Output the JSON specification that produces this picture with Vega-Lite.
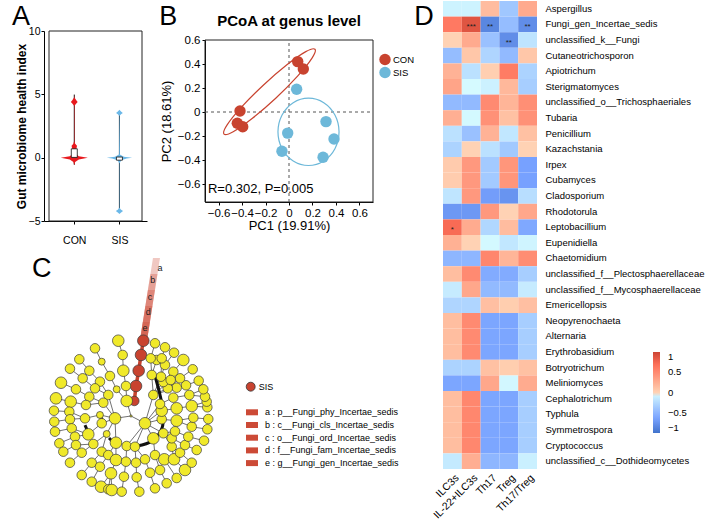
{
  "$schema": "https://vega.github.io/schema/vega-lite/v6.json",
  "width": 708,
  "height": 525,
  "autosize": {"type": "none"},
  "padding": 0,
  "background": "white",
  "config": {
    "font": "Liberation Sans",
    "view": {"stroke": null},
    "axis": {"grid": false, "labelColor": "#000", "titleColor": "#000", "domainColor": "#000", "tickColor": "#000", "labelOverlap": false, "labelFlush": false, "titleFontWeight": "normal"},
    "legend": {"padding": 0, "titlePadding": 0}
  },
  "datasets": {
    "violin": [
      {"grp": "CON", "v": -0.6, "lo": 1, "hi": 1},
      {"grp": "CON", "v": -0.35, "lo": 0.98, "hi": 1.02},
      {"grp": "CON", "v": -0.15, "lo": 0.9, "hi": 1.1},
      {"grp": "CON", "v": 0, "lo": 0.7, "hi": 1.3},
      {"grp": "CON", "v": 0.12, "lo": 0.9, "hi": 1.1},
      {"grp": "CON", "v": 0.3, "lo": 0.97, "hi": 1.03},
      {"grp": "CON", "v": 0.5, "lo": 0.98, "hi": 1.02},
      {"grp": "CON", "v": 0.75, "lo": 0.95, "hi": 1.05},
      {"grp": "CON", "v": 0.95, "lo": 0.94, "hi": 1.06},
      {"grp": "CON", "v": 1.1, "lo": 0.98, "hi": 1.02},
      {"grp": "CON", "v": 1.3, "lo": 0.995, "hi": 1.005},
      {"grp": "CON", "v": 4.1, "lo": 0.995, "hi": 1.005},
      {"grp": "CON", "v": 4.25, "lo": 0.96, "hi": 1.04},
      {"grp": "CON", "v": 4.4, "lo": 0.925, "hi": 1.075},
      {"grp": "CON", "v": 4.55, "lo": 0.96, "hi": 1.04},
      {"grp": "CON", "v": 4.75, "lo": 0.995, "hi": 1.005},
      {"grp": "CON", "v": 4.95, "lo": 1, "hi": 1},
      {"grp": "SIS", "v": -4.45, "lo": 2, "hi": 2},
      {"grp": "SIS", "v": -4.35, "lo": 1.97, "hi": 2.03},
      {"grp": "SIS", "v": -4.22, "lo": 1.92, "hi": 2.08},
      {"grp": "SIS", "v": -4.1, "lo": 1.97, "hi": 2.03},
      {"grp": "SIS", "v": -3.95, "lo": 1.995, "hi": 2.005},
      {"grp": "SIS", "v": -0.45, "lo": 1.995, "hi": 2.005},
      {"grp": "SIS", "v": -0.2, "lo": 1.96, "hi": 2.04},
      {"grp": "SIS", "v": -0.06, "lo": 1.84, "hi": 2.16},
      {"grp": "SIS", "v": 0, "lo": 1.72, "hi": 2.28},
      {"grp": "SIS", "v": 0.07, "lo": 1.9, "hi": 2.1},
      {"grp": "SIS", "v": 0.25, "lo": 1.99, "hi": 2.01},
      {"grp": "SIS", "v": 3.3, "lo": 1.995, "hi": 2.005},
      {"grp": "SIS", "v": 3.42, "lo": 1.965, "hi": 2.035},
      {"grp": "SIS", "v": 3.53, "lo": 1.925, "hi": 2.075},
      {"grp": "SIS", "v": 3.64, "lo": 1.965, "hi": 2.035},
      {"grp": "SIS", "v": 3.78, "lo": 2, "hi": 2}
    ],
    "whisk": [
      {"grp": "CON", "pos": 1, "lo": -0.56, "hi": 4.98},
      {"grp": "SIS", "pos": 2, "lo": -4.26, "hi": 3.52}
    ],
    "box": [
      {"grp": "CON", "pos": 1, "q1": 0.02, "q3": 0.7},
      {"grp": "SIS", "pos": 2, "q1": -0.2, "q3": 0.05}
    ],
    "pcoa": [
      {"grp": "CON", "x": 0.074, "y": 0.42},
      {"grp": "CON", "x": 0.122, "y": 0.358},
      {"grp": "CON", "x": -0.417, "y": 0.008},
      {"grp": "CON", "x": -0.44, "y": -0.094},
      {"grp": "CON", "x": -0.394, "y": -0.123},
      {"grp": "SIS", "x": 0.065, "y": 0.19},
      {"grp": "SIS", "x": 0.315, "y": -0.08},
      {"grp": "SIS", "x": 0.383, "y": -0.225},
      {"grp": "SIS", "x": 0.29, "y": -0.377},
      {"grp": "SIS", "x": -0.011, "y": -0.176},
      {"grp": "SIS", "x": -0.06, "y": -0.327}
    ],
    "ellipse": [
      {"grp": "CON", "i": 0, "x": 0.221, "y": 0.523},
      {"grp": "CON", "i": 1, "x": 0.196, "y": 0.449},
      {"grp": "CON", "i": 2, "x": 0.073, "y": 0.299},
      {"grp": "CON", "i": 3, "x": -0.113, "y": 0.115},
      {"grp": "CON", "i": 4, "x": -0.314, "y": -0.054},
      {"grp": "CON", "i": 5, "x": -0.475, "y": -0.164},
      {"grp": "CON", "i": 6, "x": -0.553, "y": -0.184},
      {"grp": "CON", "i": 7, "x": -0.528, "y": -0.11},
      {"grp": "CON", "i": 8, "x": -0.405, "y": 0.04},
      {"grp": "CON", "i": 9, "x": -0.219, "y": 0.223},
      {"grp": "CON", "i": 10, "x": -0.018, "y": 0.393},
      {"grp": "CON", "i": 11, "x": 0.143, "y": 0.503},
      {"grp": "SIS", "i": 0, "x": 0.426, "y": -0.165},
      {"grp": "SIS", "i": 1, "x": 0.391, "y": -0.025},
      {"grp": "SIS", "i": 2, "x": 0.296, "y": 0.078},
      {"grp": "SIS", "i": 3, "x": 0.166, "y": 0.116},
      {"grp": "SIS", "i": 4, "x": 0.036, "y": 0.078},
      {"grp": "SIS", "i": 5, "x": -0.059, "y": -0.025},
      {"grp": "SIS", "i": 6, "x": -0.094, "y": -0.165},
      {"grp": "SIS", "i": 7, "x": -0.059, "y": -0.306},
      {"grp": "SIS", "i": 8, "x": 0.036, "y": -0.408},
      {"grp": "SIS", "i": 9, "x": 0.166, "y": -0.446},
      {"grp": "SIS", "i": 10, "x": 0.296, "y": -0.408},
      {"grp": "SIS", "i": 11, "x": 0.391, "y": -0.306}
    ],
    "nodes": [
      {"id": 0, "x": 0, "y": 0, "s": 0, "g": "no"},
      {"id": 201, "x": 0.041, "y": 0.188, "s": 2, "g": "SIS"},
      {"id": 202, "x": 0.063, "y": 0.375, "s": 3, "g": "SIS"},
      {"id": 203, "x": 0.096, "y": 0.566, "s": 3, "g": "SIS"},
      {"id": 204, "x": 0.125, "y": 0.763, "s": 3, "g": "SIS"},
      {"id": 205, "x": 0.154, "y": 0.941, "s": 3, "g": "SIS"},
      {"id": 1, "x": -0.159, "y": 0.941, "s": 3, "g": "no"},
      {"id": 2, "x": -0.45, "y": 0.846, "s": 2, "g": "no"},
      {"id": 3, "x": -0.104, "y": 0.763, "s": 2, "g": "no"},
      {"id": 4, "x": -0.646, "y": 0.709, "s": 2, "g": "no"},
      {"id": 5, "x": -0.366, "y": 0.679, "s": 1, "g": "no"},
      {"id": 6, "x": -0.763, "y": 0.591, "s": 2, "g": "no"},
      {"id": 7, "x": -0.521, "y": 0.566, "s": 2, "g": "no"},
      {"id": 8, "x": -0.096, "y": 0.566, "s": 3, "g": "no"},
      {"id": 9, "x": -0.604, "y": 0.471, "s": 2, "g": "no"},
      {"id": 10, "x": -0.263, "y": 0.5, "s": 2, "g": "no"},
      {"id": 11, "x": -0.875, "y": 0.416, "s": 3, "g": "no"},
      {"id": 12, "x": -0.688, "y": 0.334, "s": 2, "g": "no"},
      {"id": 13, "x": -0.388, "y": 0.429, "s": 2, "g": "no"},
      {"id": 14, "x": -0.45, "y": 0.346, "s": 2, "g": "no"},
      {"id": 15, "x": -0.179, "y": 0.334, "s": 1, "g": "no"},
      {"id": 16, "x": -0.063, "y": 0.375, "s": 2, "g": "no"},
      {"id": 17, "x": -0.521, "y": 0.241, "s": 2, "g": "no"},
      {"id": 18, "x": -0.284, "y": 0.263, "s": 2, "g": "no"},
      {"id": 19, "x": -0.938, "y": 0.221, "s": 3, "g": "no"},
      {"id": 20, "x": -0.754, "y": 0.179, "s": 3, "g": "no"},
      {"id": 21, "x": -0.563, "y": 0.138, "s": 2, "g": "no"},
      {"id": 22, "x": -0.346, "y": 0.166, "s": 2, "g": "no"},
      {"id": 23, "x": -0.054, "y": 0.188, "s": 3, "g": "no"},
      {"id": 24, "x": -0.963, "y": 0.066, "s": 2, "g": "no"},
      {"id": 25, "x": -0.771, "y": 0.054, "s": 2, "g": "no"},
      {"id": 26, "x": -0.575, "y": -0.029, "s": 2, "g": "no"},
      {"id": 27, "x": -0.388, "y": 0.013, "s": 1, "g": "no"},
      {"id": 28, "x": -0.2, "y": -0.029, "s": 3, "g": "no"},
      {"id": 29, "x": -0.959, "y": -0.071, "s": 2, "g": "no"},
      {"id": 30, "x": -0.763, "y": -0.041, "s": 2, "g": "no"},
      {"id": 31, "x": -0.95, "y": -0.196, "s": 2, "g": "no"},
      {"id": 32, "x": -0.741, "y": -0.154, "s": 2, "g": "no"},
      {"id": 33, "x": -0.534, "y": -0.229, "s": 3, "g": "no"},
      {"id": 34, "x": -0.366, "y": -0.091, "s": 2, "g": "no"},
      {"id": 35, "x": -0.304, "y": -0.225, "s": 1, "g": "no"},
      {"id": 36, "x": -0.896, "y": -0.341, "s": 2, "g": "no"},
      {"id": 37, "x": -0.7, "y": -0.259, "s": 2, "g": "no"},
      {"id": 38, "x": -0.688, "y": -0.363, "s": 2, "g": "no"},
      {"id": 39, "x": -0.846, "y": -0.446, "s": 2, "g": "no"},
      {"id": 40, "x": -0.616, "y": -0.459, "s": 2, "g": "no"},
      {"id": 41, "x": -0.471, "y": -0.35, "s": 2, "g": "no"},
      {"id": 42, "x": -0.188, "y": -0.334, "s": 3, "g": "no"},
      {"id": 43, "x": -0.366, "y": -0.446, "s": 2, "g": "no"},
      {"id": 44, "x": -0.763, "y": -0.584, "s": 2, "g": "no"},
      {"id": 45, "x": -0.491, "y": -0.584, "s": 2, "g": "no"},
      {"id": 46, "x": -0.284, "y": -0.488, "s": 2, "g": "no"},
      {"id": 47, "x": -0.188, "y": -0.55, "s": 3, "g": "no"},
      {"id": 48, "x": -0.054, "y": -0.375, "s": 2, "g": "no"},
      {"id": 49, "x": 0.05, "y": -0.384, "s": 2, "g": "no"},
      {"id": 50, "x": -0.063, "y": -0.571, "s": 2, "g": "no"},
      {"id": 51, "x": -0.616, "y": -0.738, "s": 2, "g": "no"},
      {"id": 52, "x": -0.388, "y": -0.634, "s": 2, "g": "no"},
      {"id": 53, "x": -0.25, "y": -0.716, "s": 3, "g": "no"},
      {"id": 54, "x": -0.088, "y": -0.759, "s": 2, "g": "no"},
      {"id": 55, "x": -0.491, "y": -0.821, "s": 2, "g": "no"},
      {"id": 56, "x": -0.375, "y": -0.884, "s": 3, "g": "no"},
      {"id": 57, "x": -0.284, "y": -0.916, "s": 2, "g": "no"},
      {"id": 58, "x": -0.241, "y": -0.925, "s": 3, "g": "no"},
      {"id": 59, "x": -0.116, "y": -0.946, "s": 2, "g": "no"},
      {"id": 60, "x": 0.104, "y": -0.946, "s": 2, "g": "no"},
      {"id": 61, "x": 0.071, "y": -0.766, "s": 2, "g": "no"},
      {"id": 62, "x": 0.063, "y": -0.584, "s": 2, "g": "no"},
      {"id": 63, "x": 0.175, "y": -0.541, "s": 2, "g": "no"},
      {"id": 64, "x": 0.238, "y": -0.709, "s": 2, "g": "no"},
      {"id": 65, "x": 0.3, "y": -0.904, "s": 2, "g": "no"},
      {"id": 66, "x": 0.363, "y": -0.675, "s": 2, "g": "no"},
      {"id": 67, "x": 0.446, "y": -0.841, "s": 2, "g": "no"},
      {"id": 68, "x": 0.3, "y": -0.488, "s": 2, "g": "no"},
      {"id": 69, "x": 0.416, "y": -0.541, "s": 3, "g": "no"},
      {"id": 70, "x": 0.538, "y": -0.541, "s": 3, "g": "no"},
      {"id": 71, "x": 0.675, "y": -0.675, "s": 3, "g": "no"},
      {"id": 72, "x": 0.759, "y": -0.584, "s": 2, "g": "no"},
      {"id": 73, "x": 0.613, "y": -0.459, "s": 2, "g": "no"},
      {"id": 74, "x": 0.509, "y": -0.384, "s": 2, "g": "no"},
      {"id": 75, "x": 0.279, "y": -0.279, "s": 3, "g": "no"},
      {"id": 76, "x": 0.404, "y": -0.216, "s": 2, "g": "no"},
      {"id": 77, "x": 0.675, "y": -0.363, "s": 2, "g": "no"},
      {"id": 78, "x": 0.821, "y": -0.425, "s": 2, "g": "no"},
      {"id": 79, "x": 0.913, "y": -0.309, "s": 2, "g": "no"},
      {"id": 80, "x": 0.716, "y": -0.259, "s": 2, "g": "no"},
      {"id": 81, "x": 0.571, "y": -0.059, "s": 3, "g": "no"},
      {"id": 82, "x": 0.384, "y": -0.041, "s": 2, "g": "no"},
      {"id": 83, "x": 0.175, "y": -0.091, "s": 3, "g": "no"},
      {"id": 84, "x": 0.509, "y": -0.279, "s": 2, "g": "no"},
      {"id": 85, "x": 0.759, "y": -0.134, "s": 2, "g": "no"},
      {"id": 86, "x": 0.954, "y": -0.166, "s": 2, "g": "no"},
      {"id": 87, "x": 0.779, "y": -0.021, "s": 2, "g": "no"},
      {"id": 88, "x": 0.966, "y": -0.038, "s": 2, "g": "no"},
      {"id": 89, "x": 0.384, "y": 0.066, "s": 3, "g": "no"},
      {"id": 90, "x": 0.571, "y": 0.096, "s": 3, "g": "no"},
      {"id": 91, "x": 0.759, "y": 0.125, "s": 3, "g": "no"},
      {"id": 92, "x": 0.954, "y": 0.109, "s": 2, "g": "no"},
      {"id": 93, "x": 0.946, "y": 0.179, "s": 2, "g": "no"},
      {"id": 94, "x": 0.925, "y": 0.241, "s": 2, "g": "no"},
      {"id": 95, "x": 0.904, "y": 0.334, "s": 2, "g": "no"},
      {"id": 96, "x": 0.729, "y": 0.263, "s": 2, "g": "no"},
      {"id": 97, "x": 0.529, "y": 0.229, "s": 2, "g": "no"},
      {"id": 98, "x": 0.279, "y": 0.263, "s": 2, "g": "no"},
      {"id": 99, "x": 0.363, "y": 0.15, "s": 2, "g": "no"},
      {"id": 100, "x": 0.846, "y": 0.441, "s": 2, "g": "no"},
      {"id": 101, "x": 0.688, "y": 0.384, "s": 2, "g": "no"},
      {"id": 102, "x": 0.571, "y": 0.354, "s": 2, "g": "no"},
      {"id": 103, "x": 0.459, "y": 0.346, "s": 2, "g": "no"},
      {"id": 104, "x": 0.404, "y": 0.425, "s": 2, "g": "no"},
      {"id": 105, "x": 0.613, "y": 0.471, "s": 2, "g": "no"},
      {"id": 106, "x": 0.771, "y": 0.584, "s": 2, "g": "no"},
      {"id": 107, "x": 0.654, "y": 0.7, "s": 3, "g": "no"},
      {"id": 108, "x": 0.529, "y": 0.554, "s": 2, "g": "no"},
      {"id": 109, "x": 0.375, "y": 0.491, "s": 2, "g": "no"},
      {"id": 110, "x": 0.259, "y": 0.513, "s": 2, "g": "no"},
      {"id": 111, "x": 0.425, "y": 0.638, "s": 2, "g": "no"},
      {"id": 112, "x": 0.321, "y": 0.7, "s": 2, "g": "no"},
      {"id": 113, "x": 0.246, "y": 0.721, "s": 2, "g": "no"},
      {"id": 114, "x": 0.538, "y": 0.791, "s": 2, "g": "no"},
      {"id": 115, "x": 0.425, "y": 0.859, "s": 2, "g": "no"},
      {"id": 116, "x": 0.3, "y": 0.909, "s": 2, "g": "no"},
      {"id": 117, "x": 0.384, "y": 0.721, "s": 2, "g": "no"},
      {"id": 118, "x": 0.496, "y": 0.45, "s": 2, "g": "no"},
      {"id": 119, "x": 0.55, "y": -0.191, "s": 2, "g": "no"},
      {"id": 120, "x": 0.571, "y": -0.775, "s": 2, "g": "no"}
    ],
    "edges": [
      {"c": 1, "p": 3}, {"c": 2, "p": 5}, {"c": 4, "p": 7}, {"c": 6, "p": 9}, {"c": 11, "p": 12}, {"c": 19, "p": 20}, {"c": 24, "p": 25}, {"c": 29, "p": 30}, {"c": 31, "p": 32}, {"c": 36, "p": 37}, {"c": 39, "p": 38}, {"c": 44, "p": 40}, {"c": 51, "p": 45}, {"c": 55, "p": 52}, {"c": 56, "p": 53}, {"c": 57, "p": 53}, {"c": 58, "p": 53}, {"c": 59, "p": 54}, {"c": 60, "p": 61}, {"c": 65, "p": 64}, {"c": 67, "p": 66}, {"c": 120, "p": 69}, {"c": 71, "p": 70}, {"c": 72, "p": 73}, {"c": 78, "p": 77}, {"c": 79, "p": 80}, {"c": 86, "p": 85}, {"c": 88, "p": 87}, {"c": 92, "p": 91}, {"c": 93, "p": 91}, {"c": 94, "p": 96}, {"c": 95, "p": 96}, {"c": 100, "p": 101}, {"c": 106, "p": 105}, {"c": 107, "p": 108}, {"c": 114, "p": 111}, {"c": 115, "p": 117}, {"c": 116, "p": 113},
      {"c": 3, "p": 8}, {"c": 5, "p": 10}, {"c": 7, "p": 13}, {"c": 9, "p": 14}, {"c": 12, "p": 17}, {"c": 20, "p": 21}, {"c": 25, "p": 26}, {"c": 30, "p": 26}, {"c": 32, "p": 33}, {"c": 37, "p": 33}, {"c": 38, "p": 41}, {"c": 40, "p": 41}, {"c": 45, "p": 43}, {"c": 52, "p": 46}, {"c": 53, "p": 47}, {"c": 54, "p": 50}, {"c": 61, "p": 62}, {"c": 64, "p": 63}, {"c": 66, "p": 68}, {"c": 69, "p": 68}, {"c": 70, "p": 74}, {"c": 73, "p": 74}, {"c": 77, "p": 84}, {"c": 80, "p": 119}, {"c": 85, "p": 81}, {"c": 87, "p": 81}, {"c": 91, "p": 90}, {"c": 96, "p": 97}, {"c": 101, "p": 102}, {"c": 105, "p": 103}, {"c": 108, "p": 104}, {"c": 111, "p": 109}, {"c": 117, "p": 109}, {"c": 112, "p": 110}, {"c": 113, "p": 110},
      {"c": 8, "p": 16}, {"c": 10, "p": 15}, {"c": 13, "p": 18}, {"c": 14, "p": 18}, {"c": 17, "p": 22}, {"c": 21, "p": 22}, {"c": 26, "p": 27}, {"c": 33, "p": 34}, {"c": 41, "p": 35}, {"c": 43, "p": 35}, {"c": 46, "p": 42}, {"c": 47, "p": 42}, {"c": 50, "p": 48}, {"c": 62, "p": 49}, {"c": 63, "p": 49}, {"c": 68, "p": 75}, {"c": 74, "p": 76}, {"c": 84, "p": 76}, {"c": 119, "p": 76}, {"c": 81, "p": 82}, {"c": 90, "p": 89}, {"c": 97, "p": 99}, {"c": 102, "p": 98}, {"c": 103, "p": 98}, {"c": 104, "p": 98}, {"c": 118, "p": 98}, {"c": 109, "p": 98}, {"c": 110, "p": 98},
      {"c": 15, "p": 23}, {"c": 16, "p": 23}, {"c": 18, "p": 28}, {"c": 22, "p": 28}, {"c": 27, "p": 28}, {"c": 34, "p": 28}, {"c": 35, "p": 28}, {"c": 42, "p": 28}, {"c": 48, "p": 83}, {"c": 49, "p": 83}, {"c": 75, "p": 83}, {"c": 76, "p": 83}, {"c": 82, "p": 83}, {"c": 89, "p": 83}, {"c": 99, "p": 83}, {"c": 98, "p": 83},
      {"c": 23, "p": 0}, {"c": 28, "p": 0}, {"c": 83, "p": 0}
    ],
    "chain": [
      {"i": 1, "x": 0.041, "y": 0.188},
      {"i": 2, "x": 0.063, "y": 0.375},
      {"i": 3, "x": 0.096, "y": 0.566},
      {"i": 4, "x": 0.125, "y": 0.763},
      {"i": 5, "x": 0.154, "y": 0.941}
    ],
    "thick": [
      {"seg": 1, "i": 0, "x": 0.3, "y": 0.5},
      {"seg": 1, "i": 1, "x": 0.363, "y": 0.263},
      {"seg": 1, "i": 2, "x": 0.4, "y": 0.05},
      {"seg": 1, "i": 3, "x": 0.388, "y": -0.15},
      {"seg": 1, "i": 4, "x": 0.263, "y": -0.313},
      {"seg": 1, "i": 5, "x": 0.075, "y": -0.375},
      {"seg": 2, "i": 0, "x": -0.388, "y": 0.013},
      {"seg": 2, "i": 1, "x": -0.338, "y": -0.1},
      {"seg": 3, "i": 0, "x": -0.575, "y": -0.113},
      {"seg": 3, "i": 1, "x": -0.538, "y": -0.2},
      {"seg": 4, "i": 0, "x": -0.275, "y": -0.275},
      {"seg": 4, "i": 1, "x": -0.225, "y": -0.325}
    ],
    "wedge": [
      {"lab": "a : p__Fungi_phy_Incertae_sedis", "y": 0.9875, "lo": 0.1185, "hi": 0.2065},
      {"lab": "a : p__Fungi_phy_Incertae_sedis", "y": 1.975, "lo": 0.2745, "hi": 0.3625},
      {"lab": "b : c__Fungi_cls_Incertae_sedis", "y": 0.9875, "lo": 0.1185, "hi": 0.2065},
      {"lab": "b : c__Fungi_cls_Incertae_sedis", "y": 1.775, "lo": 0.243, "hi": 0.331},
      {"lab": "c : o__Fungi_ord_Incertae_sedis", "y": 0.9875, "lo": 0.1185, "hi": 0.2065},
      {"lab": "c : o__Fungi_ord_Incertae_sedis", "y": 1.575, "lo": 0.211, "hi": 0.299},
      {"lab": "d : f__Fungi_fam_Incertae_sedis", "y": 0.9875, "lo": 0.1185, "hi": 0.2065},
      {"lab": "d : f__Fungi_fam_Incertae_sedis", "y": 1.375, "lo": 0.18, "hi": 0.268},
      {"lab": "e : g__Fungi_gen_Incertae_sedis", "y": 0.9875, "lo": 0.1185, "hi": 0.2065},
      {"lab": "e : g__Fungi_gen_Incertae_sedis", "y": 1.175, "lo": 0.148, "hi": 0.236}
    ],
    "wlab": [
      {"k": "a", "x": 0.3625, "y": 1.854},
      {"k": "b", "x": 0.271, "y": 1.7},
      {"k": "c", "x": 0.2375, "y": 1.491},
      {"k": "d", "x": 0.216, "y": 1.304},
      {"k": "e", "x": 0.175, "y": 1.096}
    ],
    "heat": [
      {"g": "Aspergillus", "c": "ILC3s", "v": -0.08}, {"g": "Aspergillus", "c": "IL-22+ILC3s", "v": -0.08}, {"g": "Aspergillus", "c": "Th17", "v": 0.15}, {"g": "Aspergillus", "c": "Treg", "v": -0.38}, {"g": "Aspergillus", "c": "Th17/Treg", "v": 0.28},
      {"g": "Fungi_gen_Incertae_sedis", "c": "ILC3s", "v": 0.62}, {"g": "Fungi_gen_Incertae_sedis", "c": "IL-22+ILC3s", "v": 0.88, "s": "***"}, {"g": "Fungi_gen_Incertae_sedis", "c": "Th17", "v": -0.85, "s": "**"}, {"g": "Fungi_gen_Incertae_sedis", "c": "Treg", "v": -0.45}, {"g": "Fungi_gen_Incertae_sedis", "c": "Th17/Treg", "v": -0.8, "s": "**"},
      {"g": "unclassified_k__Fungi", "c": "ILC3s", "v": 0.0}, {"g": "unclassified_k__Fungi", "c": "IL-22+ILC3s", "v": 0.28}, {"g": "unclassified_k__Fungi", "c": "Th17", "v": -0.42}, {"g": "unclassified_k__Fungi", "c": "Treg", "v": -0.8, "s": "**"}, {"g": "unclassified_k__Fungi", "c": "Th17/Treg", "v": -0.18},
      {"g": "Cutaneotrichosporon", "c": "ILC3s", "v": -0.45}, {"g": "Cutaneotrichosporon", "c": "IL-22+ILC3s", "v": 0.08}, {"g": "Cutaneotrichosporon", "c": "Th17", "v": -0.28}, {"g": "Cutaneotrichosporon", "c": "Treg", "v": -0.47}, {"g": "Cutaneotrichosporon", "c": "Th17/Treg", "v": 0.08},
      {"g": "Apiotrichum", "c": "ILC3s", "v": 0.22}, {"g": "Apiotrichum", "c": "IL-22+ILC3s", "v": -0.2}, {"g": "Apiotrichum", "c": "Th17", "v": 0.02}, {"g": "Apiotrichum", "c": "Treg", "v": 0.6}, {"g": "Apiotrichum", "c": "Th17/Treg", "v": -0.3},
      {"g": "Sterigmatomyces", "c": "ILC3s", "v": 0.32}, {"g": "Sterigmatomyces", "c": "IL-22+ILC3s", "v": -0.03}, {"g": "Sterigmatomyces", "c": "Th17", "v": -0.09}, {"g": "Sterigmatomyces", "c": "Treg", "v": 0.18}, {"g": "Sterigmatomyces", "c": "Th17/Treg", "v": -0.33},
      {"g": "unclassified_o__Trichosphaeriales", "c": "ILC3s", "v": -0.47}, {"g": "unclassified_o__Trichosphaeriales", "c": "IL-22+ILC3s", "v": -0.47}, {"g": "unclassified_o__Trichosphaeriales", "c": "Th17", "v": 0.5}, {"g": "unclassified_o__Trichosphaeriales", "c": "Treg", "v": 0.2}, {"g": "unclassified_o__Trichosphaeriales", "c": "Th17/Treg", "v": 0.47},
      {"g": "Tubaria", "c": "ILC3s", "v": 0.24}, {"g": "Tubaria", "c": "IL-22+ILC3s", "v": -0.04}, {"g": "Tubaria", "c": "Th17", "v": 0.45}, {"g": "Tubaria", "c": "Treg", "v": 0.12}, {"g": "Tubaria", "c": "Th17/Treg", "v": 0.45},
      {"g": "Penicillium", "c": "ILC3s", "v": -0.2}, {"g": "Penicillium", "c": "IL-22+ILC3s", "v": -0.42}, {"g": "Penicillium", "c": "Th17", "v": 0.22}, {"g": "Penicillium", "c": "Treg", "v": -0.16}, {"g": "Penicillium", "c": "Th17/Treg", "v": 0.12},
      {"g": "Kazachstania", "c": "ILC3s", "v": -0.3}, {"g": "Kazachstania", "c": "IL-22+ILC3s", "v": 0.0}, {"g": "Kazachstania", "c": "Th17", "v": -0.2}, {"g": "Kazachstania", "c": "Treg", "v": -0.37}, {"g": "Kazachstania", "c": "Th17/Treg", "v": 0.0},
      {"g": "Irpex", "c": "ILC3s", "v": 0.05}, {"g": "Irpex", "c": "IL-22+ILC3s", "v": 0.4}, {"g": "Irpex", "c": "Th17", "v": -0.36}, {"g": "Irpex", "c": "Treg", "v": 0.42}, {"g": "Irpex", "c": "Th17/Treg", "v": -0.65},
      {"g": "Cubamyces", "c": "ILC3s", "v": 0.04}, {"g": "Cubamyces", "c": "IL-22+ILC3s", "v": 0.4}, {"g": "Cubamyces", "c": "Th17", "v": -0.36}, {"g": "Cubamyces", "c": "Treg", "v": 0.42}, {"g": "Cubamyces", "c": "Th17/Treg", "v": -0.65},
      {"g": "Cladosporium", "c": "ILC3s", "v": -0.17}, {"g": "Cladosporium", "c": "IL-22+ILC3s", "v": 0.4}, {"g": "Cladosporium", "c": "Th17", "v": -0.68}, {"g": "Cladosporium", "c": "Treg", "v": -0.75}, {"g": "Cladosporium", "c": "Th17/Treg", "v": -0.22},
      {"g": "Rhodotorula", "c": "ILC3s", "v": -0.72}, {"g": "Rhodotorula", "c": "IL-22+ILC3s", "v": -0.72}, {"g": "Rhodotorula", "c": "Th17", "v": 0.4}, {"g": "Rhodotorula", "c": "Treg", "v": 0.0}, {"g": "Rhodotorula", "c": "Th17/Treg", "v": 0.3},
      {"g": "Leptobacillium", "c": "ILC3s", "v": 0.72, "s": "*"}, {"g": "Leptobacillium", "c": "IL-22+ILC3s", "v": 0.27}, {"g": "Leptobacillium", "c": "Th17", "v": -0.27}, {"g": "Leptobacillium", "c": "Treg", "v": 0.15}, {"g": "Leptobacillium", "c": "Th17/Treg", "v": -0.6},
      {"g": "Eupenidiella", "c": "ILC3s", "v": 0.23}, {"g": "Eupenidiella", "c": "IL-22+ILC3s", "v": 0.0}, {"g": "Eupenidiella", "c": "Th17", "v": -0.04}, {"g": "Eupenidiella", "c": "Treg", "v": -0.16}, {"g": "Eupenidiella", "c": "Th17/Treg", "v": -0.07},
      {"g": "Chaetomidium", "c": "ILC3s", "v": -0.5}, {"g": "Chaetomidium", "c": "IL-22+ILC3s", "v": -0.5}, {"g": "Chaetomidium", "c": "Th17", "v": 0.53}, {"g": "Chaetomidium", "c": "Treg", "v": 0.2}, {"g": "Chaetomidium", "c": "Th17/Treg", "v": 0.48},
      {"g": "unclassified_f__Plectosphaerellaceae", "c": "ILC3s", "v": 0.14}, {"g": "unclassified_f__Plectosphaerellaceae", "c": "IL-22+ILC3s", "v": 0.5}, {"g": "unclassified_f__Plectosphaerellaceae", "c": "Th17", "v": -0.58}, {"g": "unclassified_f__Plectosphaerellaceae", "c": "Treg", "v": -0.58}, {"g": "unclassified_f__Plectosphaerellaceae", "c": "Th17/Treg", "v": -0.33},
      {"g": "unclassified_f__Mycosphaerellaceae", "c": "ILC3s", "v": -0.13}, {"g": "unclassified_f__Mycosphaerellaceae", "c": "IL-22+ILC3s", "v": 0.3}, {"g": "unclassified_f__Mycosphaerellaceae", "c": "Th17", "v": -0.47}, {"g": "unclassified_f__Mycosphaerellaceae", "c": "Treg", "v": -0.47}, {"g": "unclassified_f__Mycosphaerellaceae", "c": "Th17/Treg", "v": -0.13},
      {"g": "Emericellopsis", "c": "ILC3s", "v": -0.28}, {"g": "Emericellopsis", "c": "IL-22+ILC3s", "v": -0.28}, {"g": "Emericellopsis", "c": "Th17", "v": 0.13}, {"g": "Emericellopsis", "c": "Treg", "v": 0.03}, {"g": "Emericellopsis", "c": "Th17/Treg", "v": 0.13},
      {"g": "Neopyrenochaeta", "c": "ILC3s", "v": 0.14}, {"g": "Neopyrenochaeta", "c": "IL-22+ILC3s", "v": 0.5}, {"g": "Neopyrenochaeta", "c": "Th17", "v": -0.62}, {"g": "Neopyrenochaeta", "c": "Treg", "v": -0.62}, {"g": "Neopyrenochaeta", "c": "Th17/Treg", "v": -0.33},
      {"g": "Alternaria", "c": "ILC3s", "v": 0.14}, {"g": "Alternaria", "c": "IL-22+ILC3s", "v": 0.5}, {"g": "Alternaria", "c": "Th17", "v": -0.62}, {"g": "Alternaria", "c": "Treg", "v": -0.62}, {"g": "Alternaria", "c": "Th17/Treg", "v": -0.33},
      {"g": "Erythrobasidium", "c": "ILC3s", "v": 0.14}, {"g": "Erythrobasidium", "c": "IL-22+ILC3s", "v": 0.5}, {"g": "Erythrobasidium", "c": "Th17", "v": -0.62}, {"g": "Erythrobasidium", "c": "Treg", "v": -0.62}, {"g": "Erythrobasidium", "c": "Th17/Treg", "v": -0.33},
      {"g": "Botryotrichum", "c": "ILC3s", "v": -0.3}, {"g": "Botryotrichum", "c": "IL-22+ILC3s", "v": -0.3}, {"g": "Botryotrichum", "c": "Th17", "v": 0.12}, {"g": "Botryotrichum", "c": "Treg", "v": 0.03}, {"g": "Botryotrichum", "c": "Th17/Treg", "v": 0.12},
      {"g": "Meliniomyces", "c": "ILC3s", "v": -0.62}, {"g": "Meliniomyces", "c": "IL-22+ILC3s", "v": -0.62}, {"g": "Meliniomyces", "c": "Th17", "v": 0.3}, {"g": "Meliniomyces", "c": "Treg", "v": -0.05}, {"g": "Meliniomyces", "c": "Th17/Treg", "v": 0.27},
      {"g": "Cephalotrichum", "c": "ILC3s", "v": 0.14}, {"g": "Cephalotrichum", "c": "IL-22+ILC3s", "v": 0.52}, {"g": "Cephalotrichum", "c": "Th17", "v": -0.62}, {"g": "Cephalotrichum", "c": "Treg", "v": -0.62}, {"g": "Cephalotrichum", "c": "Th17/Treg", "v": -0.33},
      {"g": "Typhula", "c": "ILC3s", "v": 0.14}, {"g": "Typhula", "c": "IL-22+ILC3s", "v": 0.52}, {"g": "Typhula", "c": "Th17", "v": -0.62}, {"g": "Typhula", "c": "Treg", "v": -0.62}, {"g": "Typhula", "c": "Th17/Treg", "v": -0.33},
      {"g": "Symmetrospora", "c": "ILC3s", "v": 0.14}, {"g": "Symmetrospora", "c": "IL-22+ILC3s", "v": 0.52}, {"g": "Symmetrospora", "c": "Th17", "v": -0.62}, {"g": "Symmetrospora", "c": "Treg", "v": -0.62}, {"g": "Symmetrospora", "c": "Th17/Treg", "v": -0.33},
      {"g": "Cryptococcus", "c": "ILC3s", "v": 0.14}, {"g": "Cryptococcus", "c": "IL-22+ILC3s", "v": 0.52}, {"g": "Cryptococcus", "c": "Th17", "v": -0.62}, {"g": "Cryptococcus", "c": "Treg", "v": -0.62}, {"g": "Cryptococcus", "c": "Th17/Treg", "v": -0.33},
      {"g": "unclassified_c__Dothideomycetes", "c": "ILC3s", "v": -0.14}, {"g": "unclassified_c__Dothideomycetes", "c": "IL-22+ILC3s", "v": 0.25}, {"g": "unclassified_c__Dothideomycetes", "c": "Th17", "v": -0.5}, {"g": "unclassified_c__Dothideomycetes", "c": "Treg", "v": -0.5}, {"g": "unclassified_c__Dothideomycetes", "c": "Th17/Treg", "v": -0.1}
    ]
  },
  "resolve": {
    "scale": {"x": "independent", "y": "independent", "color": "independent", "fill": "independent", "stroke": "independent", "size": "independent"},
    "axis": {"x": "independent", "y": "independent"}
  },
  "layer": [
    {
      "layer": [
        {
          "data": {"name": "whisk"},
          "mark": {"type": "rule", "color": "#111", "strokeWidth": 1},
          "encoding": {
            "x": {"field": "pos", "type": "quantitative"},
            "y": {"field": "lo", "type": "quantitative"},
            "y2": {"field": "hi"}
          }
        },
        {
          "data": {"name": "violin"},
          "mark": {"type": "area", "orient": "horizontal"},
          "encoding": {
            "y": {"field": "v", "type": "quantitative",
              "scale": {"domain": [-5, 10], "range": [221, 31], "nice": false, "zero": false},
              "axis": {"orient": "left", "offset": -44, "values": [-5, 0, 5, 10], "tickSize": 3, "labelPadding": 1, "labelFontSize": 10.5, "title": "Gut microbiome health index", "titleFontSize": 12, "titleFontWeight": "bold", "titlePadding": 0}},
            "x": {"field": "lo", "type": "quantitative",
              "scale": {"domain": [0.44, 2.5], "range": [44, 147], "nice": false, "zero": false},
              "axis": {"orient": "bottom", "offset": -304, "values": [1, 2], "labelExpr": "datum.value == 1 ? 'CON' : 'SIS'", "tickSize": 3, "labelPadding": 11, "labelFontSize": 10.5, "title": null}},
            "x2": {"field": "hi"},
            "color": {"field": "grp", "type": "nominal", "scale": {"domain": ["CON", "SIS"], "range": ["#E8191E", "#6BB8E8"]}, "legend": null}
          }
        },
        {
          "data": {"name": "box"},
          "mark": {"type": "bar", "size": 6, "fill": "white", "stroke": "#111", "strokeWidth": 0.8},
          "encoding": {
            "x": {"field": "pos", "type": "quantitative"},
            "y": {"field": "q1", "type": "quantitative"},
            "y2": {"field": "q3"}
          }
        },
        {
          "data": {"values": [{}]},
          "mark": {"type": "rect", "fill": "white", "fillOpacity": 0, "stroke": "#222", "strokeWidth": 1},
          "encoding": {
            "x": {"datum": 0.44, "type": "quantitative"},
            "x2": {"datum": 2.5},
            "y": {"datum": -5, "type": "quantitative"},
            "y2": {"datum": 10}
          }
        },
        {
          "data": {"values": [{}]},
          "mark": {"type": "text", "text": "A", "fontSize": 27, "align": "center", "baseline": "alphabetic", "color": "#000"},
          "encoding": {
            "x": {"datum": -0.18, "type": "quantitative"},
            "y": {"datum": 10.48, "type": "quantitative"}
          }
        }
      ]
    },
    {
      "layer": [
        {
          "data": {"values": [{}]},
          "mark": {"type": "rect", "fill": "white", "fillOpacity": 0, "stroke": "#222", "strokeWidth": 1},
          "encoding": {
            "x": {"datum": -0.715, "type": "quantitative"},
            "x2": {"datum": 0.715},
            "y": {"datum": -0.75, "type": "quantitative"},
            "y2": {"datum": 0.6}
          }
        },
        {
          "data": {"values": [{}]},
          "mark": {"type": "rule", "color": "#555", "strokeWidth": 1, "strokeDash": [3, 3]},
          "encoding": {
            "x": {"datum": 0, "type": "quantitative"},
            "y": {"datum": -0.75, "type": "quantitative"},
            "y2": {"datum": 0.6}
          }
        },
        {
          "data": {"values": [{}]},
          "mark": {"type": "rule", "color": "#555", "strokeWidth": 1, "strokeDash": [3, 3]},
          "encoding": {
            "y": {"datum": 0, "type": "quantitative"},
            "x": {"datum": -0.715, "type": "quantitative"},
            "x2": {"datum": 0.715}
          }
        },
        {
          "data": {"name": "ellipse"},
          "mark": {"type": "line", "interpolate": "cardinal-closed", "strokeWidth": 1.2},
          "encoding": {
            "x": {"field": "x", "type": "quantitative"},
            "y": {"field": "y", "type": "quantitative"},
            "order": {"field": "i", "type": "quantitative"},
            "stroke": {"field": "grp", "type": "nominal", "scale": {"range": ["#C8432F", "#6DB8D9"]}, "legend": null}
          }
        },
        {
          "data": {"name": "pcoa"},
          "mark": {"type": "point", "filled": true, "size": 130, "opacity": 1},
          "encoding": {
            "x": {"field": "x", "type": "quantitative",
              "scale": {"domain": [-0.715, 0.715], "range": [205, 373], "nice": false, "zero": false},
              "axis": {"orient": "bottom", "offset": -323, "values": [-0.6, -0.4, -0.2, 0, 0.2, 0.4, 0.6], "format": "~g", "tickSize": 3, "labelPadding": 2, "labelFontSize": 11.5, "title": "PC1 (19.91%)", "titleFontSize": 13, "titlePadding": 1}},
            "y": {"field": "y", "type": "quantitative",
              "scale": {"domain": [-0.75, 0.6], "range": [202, 40], "nice": false, "zero": false},
              "axis": {"orient": "left", "offset": -205, "values": [-0.6, -0.4, -0.2, 0, 0.2, 0.4, 0.6], "format": "~g", "tickSize": 3, "labelPadding": 2, "labelFontSize": 11.5, "title": "PC2 (18.61%)", "titleFontSize": 13, "titlePadding": 4}},
            "color": {"field": "grp", "type": "nominal",
              "scale": {"domain": ["CON", "SIS"], "range": ["#C8432F", "#6DB8D9"]},
              "legend": {"orient": "none", "legendX": 379, "legendY": 53.5, "title": null, "symbolType": "circle", "symbolSize": 130, "symbolStrokeWidth": 0, "labelFontSize": 9.5, "labelOffset": 2, "rowPadding": 1, "padding": 0}}
          }
        },
        {
          "data": {"values": [{}]},
          "mark": {"type": "text", "text": "PCoA at genus level", "fontSize": 15, "fontWeight": "bold", "align": "center", "baseline": "alphabetic", "color": "#000"},
          "encoding": {
            "x": {"datum": 0, "type": "quantitative"},
            "y": {"datum": 0.7165, "type": "quantitative"}
          }
        },
        {
          "data": {"values": [{}]},
          "mark": {"type": "text", "text": "R=0.302, P=0.005", "fontSize": 13, "align": "left", "baseline": "alphabetic", "color": "#000"},
          "encoding": {
            "x": {"datum": -0.69, "type": "quantitative"},
            "y": {"datum": -0.672, "type": "quantitative"}
          }
        },
        {
          "data": {"values": [{}]},
          "mark": {"type": "text", "text": "B", "fontSize": 27, "align": "center", "baseline": "alphabetic", "color": "#000"},
          "encoding": {
            "x": {"datum": -1.027, "type": "quantitative"},
            "y": {"datum": 0.725, "type": "quantitative"}
          }
        },
        {
          "data": {"values": [{}]},
          "mark": {"type": "text", "text": "D", "fontSize": 27, "align": "center", "baseline": "alphabetic", "color": "#000"},
          "encoding": {
            "x": {"datum": 1.149, "type": "quantitative"},
            "y": {"datum": 0.725, "type": "quantitative"}
          }
        }
      ]
    },
    {
      "layer": [
        {
          "data": {"name": "edges"},
          "transform": [
            {"lookup": "c", "from": {"data": {"name": "nodes"}, "key": "id", "fields": ["x", "y"]}, "as": ["cx", "cy"]},
            {"lookup": "p", "from": {"data": {"name": "nodes"}, "key": "id", "fields": ["x", "y"]}, "as": ["px", "py"]}
          ],
          "mark": {"type": "rule", "color": "#333", "strokeWidth": 0.7},
          "encoding": {
            "x": {"field": "cx", "type": "quantitative", "axis": null},
            "y": {"field": "cy", "type": "quantitative", "axis": null},
            "x2": {"field": "px"},
            "y2": {"field": "py"}
          }
        },
        {
          "data": {"name": "thick"},
          "mark": {"type": "line", "color": "#111", "strokeWidth": 3, "interpolate": "cardinal"},
          "encoding": {
            "x": {"field": "x", "type": "quantitative", "axis": null},
            "y": {"field": "y", "type": "quantitative", "axis": null},
            "detail": {"field": "seg", "type": "nominal"},
            "order": {"field": "i", "type": "quantitative"}
          }
        },
        {
          "data": {"name": "chain"},
          "mark": {"type": "line", "color": "#C8432F", "strokeWidth": 3.5},
          "encoding": {
            "x": {"field": "x", "type": "quantitative", "axis": null},
            "y": {"field": "y", "type": "quantitative", "axis": null},
            "order": {"field": "i", "type": "quantitative"}
          }
        },
        {
          "data": {"name": "wedge"},
          "mark": {"type": "area", "orient": "horizontal", "opacity": 0.3},
          "encoding": {
            "y": {"field": "y", "type": "quantitative", "axis": null},
            "x": {"field": "lo", "type": "quantitative", "axis": null},
            "x2": {"field": "hi"},
            "fill": {"field": "lab", "type": "nominal",
              "scale": {"range": ["#CC4A36", "#CC4A36", "#CC4A36", "#CC4A36", "#CC4A36"]},
              "legend": {"orient": "none", "legendX": 246, "legendY": 406.3, "title": null, "symbolType": "M-1,-0.5L1,-0.5L1,0.5L-1,0.5Z", "symbolSize": 144, "symbolOpacity": 1, "symbolStrokeWidth": 0, "labelFontSize": 9, "labelOffset": 7, "rowPadding": 1.7, "padding": 0, "labelLimit": 300}}
          }
        },
        {
          "data": {"name": "nodes"},
          "mark": {"type": "point", "shape": "circle", "filled": true, "stroke": "#3a3a3a", "strokeWidth": 0.7, "opacity": 1},
          "encoding": {
            "x": {"field": "x", "type": "quantitative", "scale": {"domain": [-1.5, 1.5], "range": [11, 251], "nice": false, "zero": false}, "axis": null},
            "y": {"field": "y", "type": "quantitative", "scale": {"domain": [-1.5, 2.0], "range": [536, 256], "nice": false, "zero": false}, "axis": null},
            "size": {"field": "s", "type": "quantitative", "scale": {"domain": [0, 3], "range": [5, 135]}, "legend": null},
            "color": {"field": "g", "type": "nominal",
              "scale": {"domain": ["SIS", "no"], "range": ["#C8432F", "#F0E92A"]},
              "legend": {"values": ["SIS"], "orient": "none", "legendX": 245.7, "legendY": 381.7, "title": null, "symbolType": "circle", "symbolSize": 80, "symbolStrokeColor": "#333", "symbolStrokeWidth": 0.8, "labelFontSize": 9, "labelOffset": 3, "padding": 0}}
          }
        },
        {
          "data": {"name": "wlab"},
          "mark": {"type": "text", "fontSize": 9, "align": "center", "baseline": "middle", "color": "#222"},
          "encoding": {
            "x": {"field": "x", "type": "quantitative", "axis": null},
            "y": {"field": "y", "type": "quantitative", "axis": null},
            "text": {"field": "k"}
          }
        },
        {
          "data": {"values": [{}]},
          "mark": {"type": "text", "text": "C", "fontSize": 27, "align": "center", "baseline": "alphabetic", "color": "#000"},
          "encoding": {
            "x": {"datum": -1.116, "type": "quantitative", "axis": null},
            "y": {"datum": 1.7375, "type": "quantitative", "axis": null}
          }
        }
      ]
    },
    {
      "data": {"name": "heat"},
      "layer": [
        {
          "mark": {"type": "rect"},
          "encoding": {
            "x": {"field": "c", "type": "nominal", "sort": null,
              "scale": {"type": "band", "domain": ["ILC3s", "IL-22+ILC3s", "Th17", "Treg", "Th17/Treg"], "range": [443, 537], "paddingInner": 0, "paddingOuter": 0},
              "axis": {"orient": "bottom", "offset": -56, "labelAngle": -45, "labelAlign": "right", "labelBaseline": "middle", "domain": false, "ticks": false, "labelPadding": 7, "labelOffset": 5, "labelFontSize": 10.5, "title": null}},
            "y": {"field": "g", "type": "nominal", "sort": null,
              "scale": {"type": "band", "domain": ["Aspergillus", "Fungi_gen_Incertae_sedis", "unclassified_k__Fungi", "Cutaneotrichosporon", "Apiotrichum", "Sterigmatomyces", "unclassified_o__Trichosphaeriales", "Tubaria", "Penicillium", "Kazachstania", "Irpex", "Cubamyces", "Cladosporium", "Rhodotorula", "Leptobacillium", "Eupenidiella", "Chaetomidium", "unclassified_f__Plectosphaerellaceae", "unclassified_f__Mycosphaerellaceae", "Emericellopsis", "Neopyrenochaeta", "Alternaria", "Erythrobasidium", "Botryotrichum", "Meliniomyces", "Cephalotrichum", "Typhula", "Symmetrospora", "Cryptococcus", "unclassified_c__Dothideomycetes"], "range": [1, 469], "paddingInner": 0, "paddingOuter": 0},
              "axis": {"orient": "right", "offset": -171, "domain": false, "ticks": false, "labelPadding": 8, "labelFontSize": 9.5, "labelLimit": 300, "title": null}},
            "color": {"field": "v", "type": "quantitative",
              "scale": {"domain": [-1, 0, 1], "range": ["#4173CB", "#FFFFFF", "#CC4434"]},
              "legend": {"orient": "none", "legendX": 653, "legendY": 352, "title": null, "direction": "vertical", "gradientLength": 81, "gradientThickness": 7, "gradientStrokeWidth": 0, "values": [-1, -0.5, 0, 0.5, 1], "format": "~g", "labelFontSize": 9.5, "labelOffset": 8, "padding": 0}}
          }
        },
        {
          "transform": [{"filter": "isValid(datum.s)"}],
          "mark": {"type": "text", "fontSize": 8, "align": "center", "baseline": "middle", "dy": 3, "color": "#222"},
          "encoding": {
            "x": {"field": "c", "type": "nominal", "sort": null},
            "y": {"field": "g", "type": "nominal", "sort": null},
            "text": {"field": "s"}
          }
        }
      ]
    }
  ]
}
